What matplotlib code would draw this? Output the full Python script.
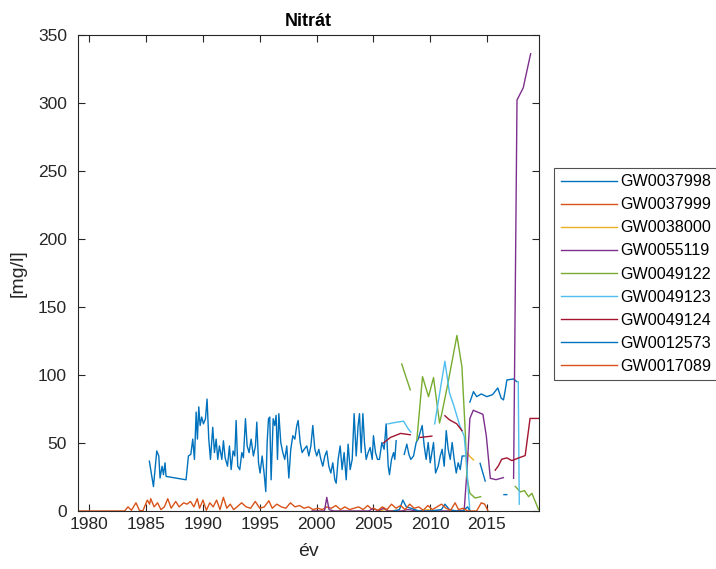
import numpy as np
import matplotlib
matplotlib.use("Agg")
import matplotlib.pyplot as plt

nan = np.nan
labels = ["GW0037998", "GW0037999", "GW0038000", "GW0055119", "GW0049122",
          "GW0049123", "GW0049124", "GW0012573", "GW0017089"]
colors = ["#0072BD", "#D95319", "#EDB120", "#7E2F8E", "#77AC30",
          "#4DBEEE", "#A2142F", "#0072BD", "#D95319"]

# GW0037998
x1 = [1985.28, 1985.64, 1985.93, 1986.11, 1986.22, 1986.40, 1986.52, 1986.66, 1986.75, 1988.51,
      1988.72, 1988.93, 1989.10, 1989.25, 1989.40, 1989.51, 1989.63, 1989.75, 1989.89, 1990.04,
      1990.22, 1990.36, 1990.51, 1990.66, 1990.86, 1991.01, 1991.16, 1991.30, 1991.45, 1991.66,
      1991.80, 1991.95, 1992.16, 1992.33, 1992.48, 1992.65, 1992.80, 1992.92, 1993.06, 1993.24,
      1993.42, 1993.56, 1993.74, 1993.89, 1994.06, 1994.24, 1994.44, 1994.62, 1994.74, 1994.89,
      1995.03, 1995.21, 1995.38, 1995.53, 1995.65, 1995.77, 1995.88, 1996.00, 1996.18, 1996.32,
      1996.44, 1996.56, 1996.68, 1996.85, 1997.03, 1997.20, 1997.38, 1997.56, 1997.73, 1997.91,
      1998.09, 1998.26, 1998.38, 1998.56, 1998.73, 1998.91, 1999.14, 1999.32, 1999.50, 1999.67,
      1999.85, 2000.02, 2000.20, 2000.38, 2000.55, 2000.73, 2000.90, 2001.08, 2001.26, 2001.43,
      2001.61, 2001.73, 2001.90, 2002.08, 2002.25, 2002.43, 2002.61, 2002.78, 2002.96, 2003.14,
      2003.31, 2003.49, 2003.66, 2003.78, 2003.93, 2004.08, 2004.22, 2004.37, 2004.54, 2004.72,
      2004.90, 2005.01, 2005.19, 2005.37, 2005.54, 2005.75, 2005.95, 2006.13, 2006.31, 2006.42,
      2006.60, 2006.78, 2006.89, 2007.01, 2007.30,
      2007.72, 2007.95, 2008.13, 2008.30, 2008.54, 2008.77, 2008.95, 2009.12, 2009.30, 2009.48,
      2009.65, 2009.83, 2010.01, 2010.30, 2010.48, 2010.71, 2010.89, 2011.06, 2011.24, 2011.42,
      2011.59, 2011.77, 2011.94, 2012.12, 2012.30, 2012.47, 2012.65, 2012.82, 2013.00, 2013.25,
      2013.50, 2013.82, 2014.10, 2014.50, 2015.00, 2015.50, 2015.96, 2016.25, 2016.46, 2016.60,
      2016.76, 2017.34, 2017.64]
y1 = [36.6, 17.9, 44.1, 40.4, 24.2, 32.9, 26.7, 35.4, 25.4, 22.9,
      40.4, 41.6, 52.8, 37.9, 72.7, 52.8, 76.5, 62.8, 69.0, 64.0,
      67.8, 82.2, 52.8, 37.9, 61.5, 42.9, 52.8, 37.9, 47.8, 37.9,
      51.6, 39.1, 32.9, 47.8, 30.4, 44.1, 40.4, 66.5, 32.9, 30.4,
      42.9, 39.1, 67.8, 47.8, 42.9, 52.8, 40.4, 47.8, 65.3, 35.4,
      27.9, 40.4, 27.9, 14.2, 50.3, 67.8, 69.0, 22.9, 67.8, 62.8,
      70.3, 37.9, 71.5, 50.3, 42.9, 37.9, 47.8, 24.2, 45.3, 55.3,
      52.8, 62.8, 66.5, 50.3, 42.9, 45.3, 47.8, 40.4, 47.8, 62.8,
      45.3, 40.4, 45.3, 37.9, 32.9, 40.4, 44.1, 32.9, 27.9, 35.4,
      22.9, 20.4, 37.9, 47.8, 30.4, 42.9, 22.9, 49.1, 30.4, 37.9,
      71.5, 40.4, 62.8, 71.5, 42.9, 71.5, 50.3, 37.9, 42.9, 46.6,
      37.9, 55.3, 42.9, 37.9, 37.9, 50.3, 45.3, 64.0, 32.9, 26.7,
      37.9, 42.9, 37.9, 51.6, nan,
      41.6, 49.1, 41.6, 37.9, 40.4, 50.3, 52.8, 57.8, 62.8, 47.8,
      37.9, 50.3, 35.4, 50.3, 27.9, 32.9, 40.4, 45.3, 32.9, 59.0,
      45.3, 37.9, 50.3, 37.9, 27.9, 35.4, 30.4, 40.4, 40.4, nan,
      80.0, 87.7, 84.0, 86.0, 84.0, 85.5, 90.4, 83.0, 81.6, 88.0,
      96.3, 97.0, 95.0]

# GW0037999
x2 = [1979.0, 1983.1, 1983.4, 1983.7, 1984.1, 1984.4, 1984.7, 1985.1, 1985.3, 1985.4,
      1985.7, 1986.0, 1986.3, 1986.6, 1986.9, 1987.2, 1987.6, 1987.9, 1988.3, 1988.6,
      1988.9, 1989.2, 1989.5, 1989.7, 1990.0, 1990.3, 1990.6, 1990.9, 1991.2, 1991.5,
      1991.8, 1992.1, 1992.4, 1992.7, 1993.0, 1993.4, 1993.8, 1994.2, 1994.6, 1995.0,
      1995.4, 1995.8, 1996.1, 1996.5, 1996.9, 1997.3, 1997.7, 1998.1, 1998.5, 1998.9,
      1999.3, 1999.7, 2000.1, 2000.5, 2000.9, 2001.3, 2001.7, 2002.1, 2002.5, 2002.9,
      2003.3, 2003.7, 2004.1, 2004.5, 2004.9]
y2 = [0, 0, 3, 0.5, 6, 0.5, 0, 8, 5, 9,
      3, 6, 1, 3, 9, 2, 7, 3, 6, 5,
      7, 3, 9, 2, 8, 0.5, 6, 3, 8, 1,
      10, 2, 5, 1, 3, 6, 3, 2, 7, 2,
      3, 7.5, 2, 5, 3, 2, 6, 3, 4, 2,
      3, 1, 2, 1, 3, 2, 4, 1, 3, 1,
      2, 3, 1, 4, 1]

# GW0038000
x3 = [2005.5, 2006.0, 2006.5, 2007.0, nan, 2009.3, 2009.8, 2010.3, nan, 2013.26, 2013.5, 2013.82]
y3 = [0, 1, 0, 0.5, nan, 0, 1, 0, nan, 42.6, 40.0, 37.5]

# GW0055119
x4 = [1999.6, 2000.7, 2000.9, 2001.1, 2001.5, 2003.0, 2004.6, 2005.0, 2005.4, 2005.9,
      2006.3, 2007.5, 2008.0, 2009.0, 2011.5, 2012.5, 2013.0, 2013.25, 2013.5, 2013.8,
      2014.65, 2014.95, 2015.3, 2015.8, 2016.45, nan, 2017.35, 2017.65, 2018.2, 2018.85]
y4 = [0, 0, 10, 1, 0, 0, 0, 2, 0, 2,
      0, 0, 1, 0, 0, 0, 0.5, 30, 68, 74,
      71, 55, 24, 23, 24.5, nan, 24, 302, 311, 336]

# GW0049122
x5 = [2007.5, 2008.25, nan, 2008.83, 2009.33, 2009.86, 2010.3, 2010.83, 2011.04, 2011.62,
      2012.36, 2012.8, 2013.1, 2013.24, 2013.5, 2013.97, 2014.45, nan,
      2017.5, 2017.95, 2018.3, 2018.67, 2018.96, 2019.55]
y5 = [108, 89, nan, 52, 98.7, 84, 98, 64.6, 72, 96,
      129, 106, 57, 25, 13, 9.5, 10.5, nan,
      18, 14, 15, 10.5, 13, 1]

# GW0049123
x6 = [2006.3, 2006.9, 2007.66, 2008.1, 2008.3, nan, 2010.4, 2011.3, 2011.7, 2012.1,
      2012.6, 2013.0, 2013.2, 2013.4, 2013.5, nan, 2017.76, 2017.85]
y6 = [64, 65, 66, 60, 58, nan, 64, 110, 87, 77,
      63, 55, 36, 10.5, 0, nan, 95, 5]

# GW0049124
x7 = [2005.9, 2006.5, 2007.4, 2008.25, nan, 2009.1, 2010.15, nan, 2011.3, 2011.7,
      2012.35, 2012.8, nan, 2015.73, 2016.0, 2016.3, 2016.76, 2017.2, 2017.5, 2017.8,
      2018.37, 2018.8, 2019.6]
y7 = [50, 54, 57, 56, nan, 54, 55, nan, 70, 67,
      64, 59, nan, 30, 33, 38, 39, 37, 38, 39,
      40.7, 68, 68]

# GW0012573
x8 = [2006.8, 2007.3, 2007.6, 2007.9, 2008.3, 2009.0, 2010.0, 2011.0, 2011.3, 2011.7,
      2012.3, 2012.9, 2013.3, 2013.5, nan, 2014.4, 2014.85, nan, 2016.5, 2016.75]
y8 = [0, 1, 8, 3, 2, 0, 0, 1, 5, 1,
      0, 0, 3, 0, nan, 35, 22, nan, 12, 12]

# GW0017089
x9 = [2005.0, 2005.4, 2005.8, 2006.2, 2006.6, 2007.0, 2007.4, 2007.8, 2008.2, 2008.6,
      2009.0, 2009.4, 2009.8, 2010.2, 2010.6, 2011.0, 2011.4, 2011.8, 2012.2, 2012.5,
      2012.9, 2013.3, 2013.7, 2014.1, 2014.5, 2014.8, 2015.1]
y9 = [2, 0.5, 3, 1, 5, 2, 4, 1, 5, 2,
      3, 0.5, 4, 1, 3, 5, 2, 0.5, 6, 1,
      2, 0, 0, 0, 6, 5, 0]

xs = [x1, x2, x3, x4, x5, x6, x7, x8, x9]
ys = [y1, y2, y3, y4, y5, y6, y7, y8, y9]

xticks = [1980, 1985, 1990, 1995, 2000, 2005, 2010, 2015]
yticks = [0, 50, 100, 150, 200, 250, 300, 350]

plt.rcParams['font.family'] = ['Liberation Sans', 'DejaVu Sans']
fig = plt.figure(figsize=(7.16, 5.69), dpi=100)
ax = fig.add_axes([0.109, 0.102, 0.644, 0.837])
for x, y, c, l in zip(xs, ys, colors, labels):
    ax.plot(x, y, color=c, lw=1.0, label=l)

ax.set_xlim(1979.0, 2019.6)
ax.set_ylim(0, 350)
ax.set_xticks(xticks)
ax.set_yticks(yticks)
tc = "#262626"
ax.tick_params(direction='in', top=True, right=True, length=5, width=0.8,
               labelsize=12.5, colors=tc, labelcolor=tc, pad=4)
ax.tick_params(axis='y', pad=8)
for s in ax.spines.values():
    s.set_color(tc)
    s.set_linewidth(0.8)
ax.set_title("Nitrát", fontsize=13, fontweight='bold', color='black', pad=6)
ax.set_xlabel("év", fontsize=14, color=tc, labelpad=8)
ax.set_ylabel("[mg/l]", fontsize=14, color=tc, labelpad=8)

leg = ax.legend(loc='upper left', bbox_to_anchor=(0.774, 0.705),
                bbox_transform=fig.transFigure, borderaxespad=0,
                fontsize=11.6, frameon=True, fancybox=False, handlelength=3.5,
                handletextpad=0.2, labelspacing=0.5, borderpad=0.4)
leg.get_frame().set_edgecolor(tc)
leg.get_frame().set_linewidth(0.8)
for t in leg.get_texts():
    t.set_color('black')

fig.savefig("out.png", dpi=100)
